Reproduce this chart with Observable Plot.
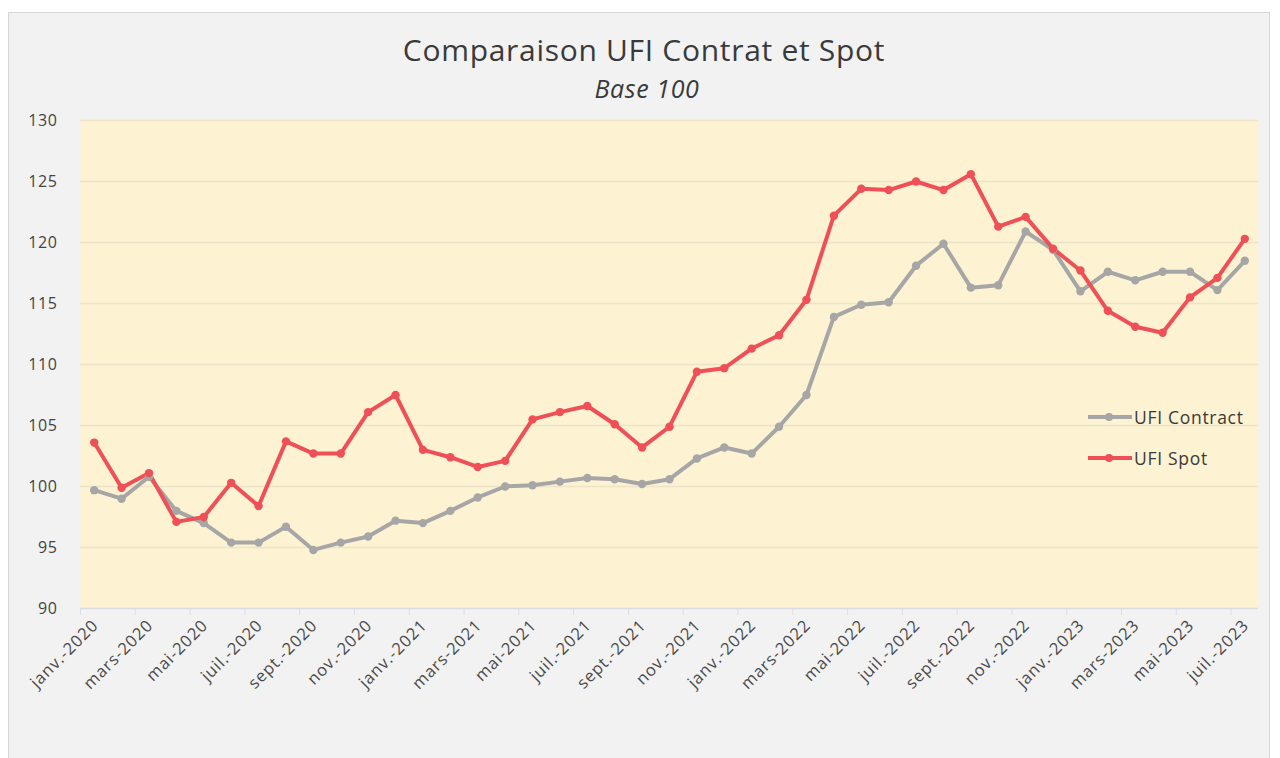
<!DOCTYPE html>
<html>
<head>
<meta charset="utf-8">
<script src="https://cdn.jsdelivr.net/npm/d3@7"></script>
<script src="https://cdn.jsdelivr.net/npm/@observablehq/plot@0.6"></script>
<style>
  html, body { margin: 0; padding: 0; background: #ffffff; }
  body { width: 1280px; height: 758px; position: relative; overflow: hidden; font-family: "Open Sans", sans-serif; }
  #panel { position: absolute; left: 8px; top: 12px; width: 1262px; height: 760px; background: #f2f2f2; border: 1px solid #d6d6d6; box-sizing: border-box; }
  #title { position: absolute; left: 0; width: 1288px; top: 35px; line-height: 30px; text-align: center; font-size: 30px; color: #3a3a3a; letter-spacing: 0.7px; white-space: nowrap; }
  #subtitle { position: absolute; left: 0; width: 1294px; top: 76px; line-height: 25px; text-align: center; font-size: 25px; font-style: italic; color: #3a3a3a; letter-spacing: 0.6px; }
  #chart { position: absolute; left: 0; top: 100px; }
  #chart g[aria-label="text"] text { letter-spacing: 0.9px; }
  #chart g[aria-label="y-axis tick label"] text { letter-spacing: 0.6px; }
  .leg { position: absolute; left: 1088px; height: 20px; display: flex; align-items: center; font-size: 17.5px; color: #3a3a3a; letter-spacing: 0.7px; white-space: nowrap; }
  .leg .sw { position: relative; width: 44px; height: 4px; margin-right: 2px; }
  .leg .sw i { position: absolute; left: 17px; top: -2px; width: 8px; height: 8px; border-radius: 50%; }
</style>
</head>
<body>
<div id="panel"></div>
<div id="title">Comparaison UFI Contrat et Spot</div>
<div id="subtitle">Base 100</div>
<div id="chart"></div>
<div class="leg" style="top:407px"><span class="sw" style="background:#a6a6a6"><i style="background:#a6a6a6"></i></span>UFI Contract</div>
<div class="leg" style="top:448px"><span class="sw" style="background:#ef5057"><i style="background:#ef5057"></i></span>UFI Spot</div>
<script>
const months = [
  "janv.-2020","févr.-2020","mars-2020","avr.-2020","mai-2020","juin-2020","juil.-2020","août-2020","sept.-2020","oct.-2020","nov.-2020","déc.-2020",
  "janv.-2021","févr.-2021","mars-2021","avr.-2021","mai-2021","juin-2021","juil.-2021","août-2021","sept.-2021","oct.-2021","nov.-2021","déc.-2021",
  "janv.-2022","févr.-2022","mars-2022","avr.-2022","mai-2022","juin-2022","juil.-2022","août-2022","sept.-2022","oct.-2022","nov.-2022","déc.-2022",
  "janv.-2023","févr.-2023","mars-2023","avr.-2023","mai-2023","juin-2023","juil.-2023"
];
const contract = [99.7, 99.0, 100.8, 98.0, 97.0, 95.4, 95.4, 96.7, 94.8, 95.4, 95.9, 97.2, 97.0, 98.0, 99.1, 100.0, 100.1, 100.4, 100.7, 100.6, 100.2, 100.6, 102.3, 103.2, 102.7, 104.9, 107.5, 113.9, 114.9, 115.1, 118.1, 119.9, 116.3, 116.5, 120.9, 119.4, 116.0, 117.6, 116.9, 117.6, 117.6, 116.1, 118.5];
const spot = [103.6, 99.9, 101.1, 97.1, 97.5, 100.3, 98.4, 103.7, 102.7, 102.7, 106.1, 107.5, 103.0, 102.4, 101.6, 102.1, 105.5, 106.1, 106.6, 105.1, 103.2, 104.9, 109.4, 109.7, 111.3, 112.4, 115.3, 122.2, 124.4, 124.3, 125.0, 124.3, 125.6, 121.3, 122.1, 119.5, 117.7, 114.4, 113.1, 112.6, 115.5, 117.1, 120.3];
const seriesNames = ["UFI Contract", "UFI Spot"];
const seriesColors = ["#a6a6a6", "#ef5057"];
const yTicks = [90, 95, 100, 105, 110, 115, 120, 125, 130];

const rows = [];
months.forEach((m, i) => {
  rows.push({i, month: m, series: seriesNames[0], value: contract[i]});
  rows.push({i, month: m, series: seriesNames[1], value: spot[i]});
});
const labelIdx = months.map((m, i) => i).filter(i => i % 2 === 0);
const boundaries = labelIdx.map(i => i - 0.5);

const chart = Plot.plot({
  width: 1280,
  height: 658,
  marginTop: 20,
  marginBottom: 150,
  marginLeft: 80,
  marginRight: 22,
  style: {background: "transparent", fontFamily: "Open Sans, sans-serif"},
  x: {type: "linear", domain: [-0.5, months.length - 0.5]},
  y: {domain: [90, 130]},
  color: {domain: seriesNames, range: seriesColors},
  marks: [
    Plot.frame({fill: "#fdf2d2", stroke: null}),
    Plot.gridY(yTicks.filter(t => t > 90), {stroke: "#ece3c9", strokeOpacity: 1, strokeWidth: 1.5}),
    Plot.axisY(yTicks, {tickSize: 0, tickPadding: 23, fontSize: 16, color: "#444", label: null}),
    Plot.ruleY([90], {stroke: "#dcdce4", strokeWidth: 1.5}),
    Plot.axisX(boundaries, {tickSize: 7, stroke: "#dcdce4", tickFormat: () => "", label: null}),
    Plot.text(labelIdx, {x: d => d, text: d => months[d], frameAnchor: "bottom", dy: 18, dx: 5, rotate: -45, textAnchor: "end", fontSize: 16.5, fill: "#4a4a4a"}),
    Plot.line(rows, {x: "i", y: "value", stroke: "series", strokeWidth: 4, z: "series"}),
    Plot.dot(rows, {x: "i", y: "value", fill: "series", r: 4.2})
  ]
});
document.getElementById("chart").appendChild(chart);
</script>
</body>
</html>
